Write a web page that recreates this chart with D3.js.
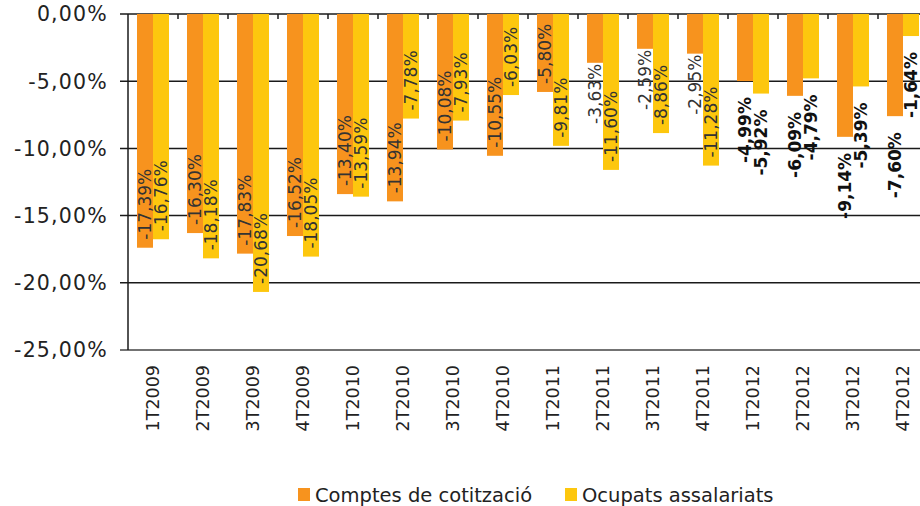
<!DOCTYPE html>
<html>
<head>
<meta charset="utf-8">
<script src="https://cdn.jsdelivr.net/npm/d3@7"></script>
<style>
  body { margin: 0; background: #fff; }
  svg { display: block; font-family: "DejaVu Sans", Verdana, sans-serif; }
  .g-grid line { stroke: #1a1a1a; stroke-width: 1.5; }
</style>
</head>
<body>
<div class="g-chart"></div>
<script>
// quarters
const categories = ["1T2009","2T2009","3T2009","4T2009","1T2010","2T2010","3T2010","4T2010",
                    "1T2011","2T2011","3T2011","4T2011","1T2012","2T2012","3T2012","4T2012"];
const seriesNames = ["Comptes de cotització", "Ocupats assalariats"];
const comptes = [-17.39,-16.30,-17.83,-16.52,-13.40,-13.94,-10.08,-10.55,-5.80,-3.63,-2.59,-2.95,-4.99,-6.09,-9.14,-7.60];
const ocupats = [-16.76,-18.18,-20.68,-18.05,-13.59,-7.78,-7.93,-6.03,-9.81,-11.60,-8.86,-11.28,-5.92,-4.79,-5.39,-1.64];
const yTicks = [0,-5,-10,-15,-20,-25];
const boldFrom = "1T2012";

let colors = ["#F7931E", "#FDC70E"];
let width = 920, height = 506;
let marginLeft = 128, plotTop = 14, plotBottom = 350;

let svg = d3.select(".g-chart").append("svg").attr("width", width).attr("height", height);

let x = d3.scaleBand().domain(categories).range([marginLeft, marginLeft + 50*categories.length]);
let xs = d3.scaleBand().domain([0,1]).range([9, 41]);
let y = d3.scaleLinear().domain([-25,0]).range([plotBottom, plotTop]);
let fmt = v => d3.format(".2f")(v).replace(".", ",").replace("−", "-") + "%";

// gridlines
let grid = svg.append("g").attr("class", "g-grid");
grid.selectAll("line.h").data(yTicks).enter().append("line")
    .attr("x1", marginLeft - 8).attr("x2", width)
    .attr("y1", d => y(d)).attr("y2", d => y(d))
    .style("stroke", d => d == -25 ? "#444" : "#1a1a1a");
grid.append("line").attr("x1", marginLeft).attr("x2", marginLeft).attr("y1", plotTop).attr("y2", plotBottom);
grid.selectAll("line.t").data(categories.slice(1)).enter().append("line")
    .attr("x1", d => x(d)).attr("x2", d => x(d))
    .attr("y1", plotTop).attr("y2", plotTop + 5);

svg.selectAll("text.g-ylab").data(yTicks).enter().append("text")
    .attr("class", "g-ylab")
    .attr("x", 108).attr("y", d => y(d)).attr("dy", "0.36em")
    .style("text-anchor", "end").style("font-size", "20.5px").style("fill", "#222")
    .style("letter-spacing", "1.2px")
    .text(fmt);

let rows = categories.map((c, i) => ({cat: c, i: i, vals: [comptes[i], ocupats[i]]}));
let bold0 = categories.indexOf(boldFrom);

let groups = svg.selectAll("g.g-q").data(rows).enter().append("g")
    .attr("transform", d => "translate(" + x(d.cat) + ",0)");

groups.selectAll("rect").data(d => d.vals.map((v, s) => ({v: v, s: s}))).enter().append("rect")
    .attr("x", d => xs(d.s)).attr("width", xs.bandwidth())
    .attr("y", y(0)).attr("height", d => y(d.v) - y(0))
    .style("fill", d => colors[d.s]);

groups.each(function(row) {
    let g = d3.select(this);
    row.vals.forEach(function(v, s) {
        let bold = row.i >= bold0;
        let t = g.append("text")
            .style("font-size", "17px")
            .style("font-weight", bold ? "bold" : "normal")
            .style("fill", bold ? "#111" : "#333")
            .attr("dy", "0.36em")
            .text(fmt(v));
        let len = t.node().getComputedTextLength();
        let end = y(v), barlen = y(v) - y(0);
        let cx = xs(s) + xs.bandwidth()/2;
        if (!bold && len + 10 < barlen) {
            t.style("text-anchor", "start").attr("transform", "translate(" + cx + "," + (end - 8) + ") rotate(-90)");
        } else {
            t.style("text-anchor", "end").attr("transform", "translate(" + cx + "," + (end + (bold ? 16 : 1)) + ") rotate(-90)");
        }
    });
});

// category labels
svg.selectAll("text.g-xlab").data(categories).enter().append("text")
    .attr("class", "g-xlab")
    .attr("transform", d => "translate(" + (x(d) + 25) + ",365) rotate(-90)")
    .attr("dy", "0.36em")
    .style("text-anchor", "end").style("font-size", "17.5px").style("fill", "#222")
    .text(d => d);

// legend
let legx = [298, 565];
let leg = svg.selectAll("g.g-leg").data(seriesNames).enter().append("g")
    .attr("transform", (d, i) => "translate(" + legx[i] + ",488)");
leg.append("rect").attr("width", 12).attr("height", 13).style("fill", (d, i) => colors[i]);
leg.append("text").attr("x", 17).attr("y", 14)
    .style("font-size", "19.5px").style("fill", "#222").text(d => d);
</script>
</body>
</html>
